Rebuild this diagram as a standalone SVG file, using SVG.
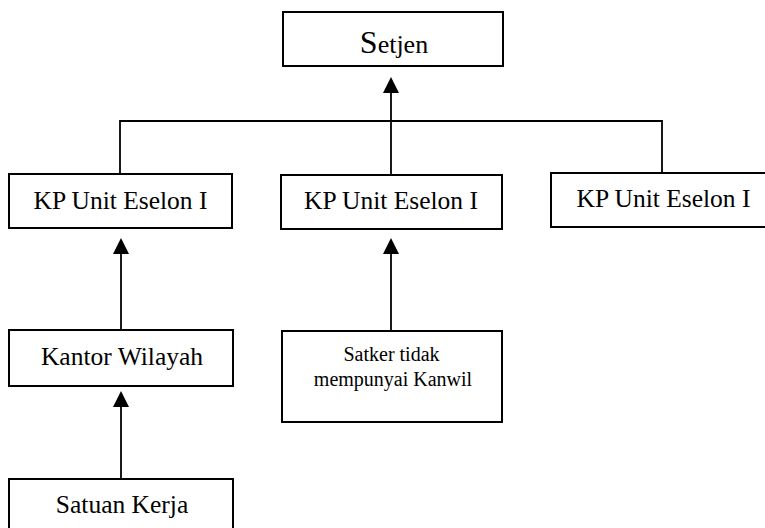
<svg xmlns="http://www.w3.org/2000/svg" width="765" height="528" viewBox="0 0 765 528">
  <style>
    .box { fill: #ffffff; stroke: #000000; stroke-width: 2; }
    .lbl { font-family: "Liberation Serif", "DejaVu Serif", serif; font-size: 25.5px; fill: #000000; text-anchor: middle; }
    .small { font-family: "Liberation Serif", "DejaVu Serif", serif; font-size: 20px; fill: #000000; text-anchor: middle; }
    .conn { fill: none; stroke: #000000; stroke-width: 1.8; }
  </style>
  <defs>
    <marker id="arrow" markerUnits="userSpaceOnUse" markerWidth="16" markerHeight="16" refX="8" refY="8" orient="auto">
      <path d="M0,0 L16,8 L0,16 Z" fill="#000000"/>
    </marker>
  </defs>
  <rect width="765" height="528" fill="#ffffff"/>

  <g id="connectors">
    <line class="conn" x1="391" y1="175" x2="391" y2="85" marker-end="url(#arrow)"/>
    <polyline class="conn" points="120,174 120,121 662,121 662,173"/>
    <line class="conn" x1="121" y1="330" x2="121" y2="246" marker-end="url(#arrow)"/>
    <line class="conn" x1="391" y1="331" x2="391" y2="246" marker-end="url(#arrow)"/>
    <line class="conn" x1="121" y1="479" x2="121" y2="399" marker-end="url(#arrow)"/>
  </g>

  <g id="setjen">
    <rect class="box" x="283" y="12" width="220" height="54"/>
    <text class="lbl" x="394" y="53"><tspan font-size="32">S</tspan><tspan font-size="26">etjen</tspan></text>
  </g>

  <g id="kp1">
    <rect class="box" x="9" y="174" width="223" height="54"/>
    <text class="lbl" x="120.5" y="209">KP Unit Eselon I</text>
  </g>

  <g id="kp2">
    <rect class="box" x="281" y="175" width="221" height="54"/>
    <text class="lbl" x="391" y="209">KP Unit Eselon I</text>
  </g>

  <g id="kp3">
    <rect class="box" x="551" y="173" width="230" height="54"/>
    <text class="lbl" x="663.5" y="207">KP Unit Eselon I</text>
  </g>

  <g id="kanwil">
    <rect class="box" x="9" y="330" width="224" height="56"/>
    <text class="lbl" x="122" y="364.5" font-size="26">Kantor Wilayah</text>
  </g>

  <g id="satker">
    <rect class="box" x="282" y="331" width="220" height="91"/>
    <text class="small" x="391.5" y="361">Satker tidak</text>
    <text class="small" x="393" y="386">mempunyai Kanwil</text>
  </g>

  <g id="satuan-kerja">
    <rect class="box" x="9" y="479" width="224" height="60"/>
    <text class="lbl" x="122" y="513" font-size="26">Satuan Kerja</text>
  </g>
</svg>
